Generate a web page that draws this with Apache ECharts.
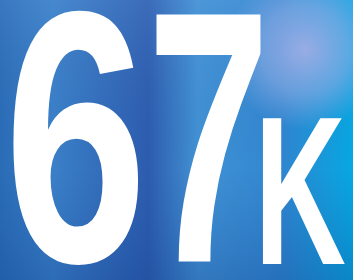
<!DOCTYPE html>
<html><head><meta charset="utf-8">
<script src="https://cdn.jsdelivr.net/npm/echarts@6/dist/echarts.min.js"></script>
<style>html,body{margin:0;padding:0;overflow:hidden;background:#2f6fbf}#c{width:353px;height:280px}</style>
</head><body><div id="c"></div>
<script>
const digits = ['6', '7'];
const unit = 'K';
const chart = echarts.init(document.getElementById('c'), null, {renderer: 'canvas'});
const G = echarts.graphic;
const font = 'bold 359px "Liberation Sans"';
chart.setOption({
  animation: false,
  graphic: [
    {type: 'rect', shape: {x: 0, y: 0, width: 353, height: 280}, style: {fill: new G.LinearGradient(0, 0, 1, 0, [
      {offset: 0, color: '#2a6cb6'}, {offset: 0.15, color: '#3a80c8'}, {offset: 0.42, color: '#2d5cae'},
      {offset: 0.56, color: '#4292d4'}, {offset: 0.8, color: '#2f86d0'}, {offset: 1, color: '#06a8e2'}])}},
    {type: 'rect', shape: {x: 0, y: 0, width: 353, height: 280}, style: {fill: new G.LinearGradient(0, 0, 0, 1, [
      {offset: 0, color: 'rgba(120,170,230,0.2)'}, {offset: 0.6, color: 'rgba(30,80,160,0)'}, {offset: 1, color: 'rgba(15,60,140,0.3)'}])}},
    {type: 'ellipse', shape: {cx: 305, cy: 50, rx: 80, ry: 100}, style: {fill: new G.RadialGradient(0.5, 0.5, 0.5, [
      {offset: 0, color: 'rgba(165,175,230,0.9)'}, {offset: 0.55, color: 'rgba(150,175,230,0.55)'}, {offset: 1, color: 'rgba(140,170,230,0)'}])}},
    {type: 'text', x: 4, y: -17, scaleX: 0.718, style: {text: digits[0], font: font, fill: '#fff', align: 'left', verticalAlign: 'top'}},
    {type: 'text', x: 147, y: -17, scaleX: 0.617, style: {text: digits[1], font: font, fill: '#fff', align: 'left', verticalAlign: 'top'}},
    {type: 'text', x: 254.5, y: 100, scaleX: 0.597, style: {text: unit, font: 'bold 212px "Liberation Sans"', fill: '#fff', align: 'left', verticalAlign: 'top'}}
  ]
});
</script></body></html>
